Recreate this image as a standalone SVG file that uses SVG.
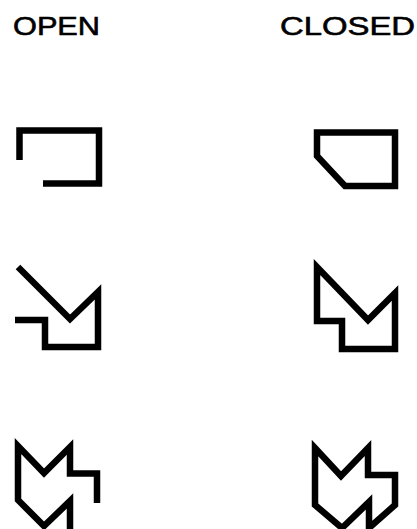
<svg xmlns="http://www.w3.org/2000/svg" width="417" height="529" viewBox="0 0 417 529">
<style>
.lbl{font-family:"Liberation Sans",Arial,sans-serif;font-size:26px;fill:#000;stroke:#000;stroke-width:0.6}
.sh{fill:none;stroke:#000;stroke-width:6.5;stroke-linejoin:miter;stroke-linecap:butt;stroke-miterlimit:10}
</style>
<rect width="417" height="529" fill="#fff"/>
<g id="label-open"><text class="lbl" x="13" y="35" textLength="87" lengthAdjust="spacingAndGlyphs">OPEN</text></g>
<g id="label-closed"><text class="lbl" x="280" y="35" textLength="135" lengthAdjust="spacingAndGlyphs">CLOSED</text></g>
<g id="open-1"><path class="sh" d="M19.5,160 V130.5 H99 V183.5 H43"/></g>
<g id="closed-1"><path class="sh" d="M317,132.5 H395 V186 H345 L317,156 Z"/></g>
<g id="open-2"><path class="sh" d="M18,267 L70,319 L98,292 V347 H45 V320 H15"/></g>
<g id="closed-2"><path class="sh" d="M317,267 L368,320 L395,293 V349 H342 V321 H317 Z"/></g>
<g id="open-3"><path class="sh" d="M97,503 V473.5 H70 V447 L44,473 L18,446 V500 L44,526 L70,501 V529"/></g>
<g id="closed-3"><path class="sh" d="M315,448 L341,476 L368,448 V475 H395 V505 L369,528 V502 L342,528 L315,505 Z"/></g>
</svg>
